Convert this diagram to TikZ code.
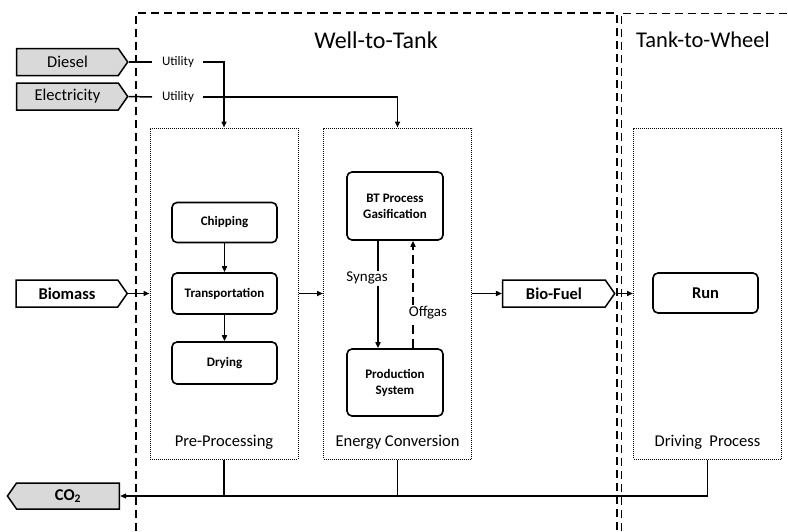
\documentclass[tikz,border=0pt]{standalone}
\usepackage{fontspec}
\setmainfont{Carlito}
\usetikzlibrary{arrows.meta,shapes.symbols}
\begin{document}
\begin{tikzpicture}[x=1pt,y=-1pt,
  tip/.style={-{Triangle[length=6pt,width=5pt]}},
  conn/.style={line width=1.5pt},
  proc/.style={draw,line width=1.6pt,rounded corners=5pt,minimum width=105pt,minimum height=40pt,font=\bfseries\fontsize{13}{16}\selectfont,align=center,inner sep=0pt},
  stage/.style={draw,line width=1pt,dash pattern=on 1pt off 1pt,minimum width=148pt,minimum height=331pt,inner sep=0pt},
  sig/.style={draw,line width=1.5pt,shape=signal,signal pointer angle=110,minimum height=27pt,minimum width=111pt,inner sep=0pt,font=\fontsize{16.5}{18}\selectfont},
  grey/.style={fill=black!15},
  lbl/.style={font=\fontsize{16.5}{18}\selectfont,inner sep=1pt},
  small/.style={font=\fontsize{13}{15}\selectfont,inner sep=1pt},
  title/.style={font=\fontsize{24}{28}\selectfont,inner sep=0pt},
  outer/.style={line width=1.5pt,dash pattern=on 8pt off 5pt},
  outertwo/.style={line width=1pt,dash pattern=on 8pt off 5pt}
]
\useasboundingbox (0,0) rectangle (788,531);

% outer frames
\draw[outer] (136,531) -- (136,13) -- (617,13) -- (617,531);
\draw[outertwo] (621,531) -- (621,13) -- (788,13);
\node[title] (wtt) at (376,40) {Well-to-Tank};
\node[title,font=\fontsize{22.5}{26}\selectfont] (ttw) at (703,40) {Tank-to-Wheel};

% stage containers
\node[stage] (pre) at (224,293.5) {};
\node[stage] (ec) at (397.5,293.5) {};
\node[stage] (drv) at (707.5,293.5) {};
\node[lbl] (prel) at (224,442) {Pre-Processing};
\node[lbl] (ecl) at (397.5,442) {Energy Conversion};
\node[lbl] (drvl) at (707.5,442) {Driving\hspace{0.45em}Process};

% inputs
\node[sig,grey] (diesel) at (67.5,62) {Diesel};
\node[sig,grey] (elec) at (67.5,96.5) {Electricity};
\node[sig,font=\bfseries\fontsize{16.5}{18}\selectfont] (bio) at (67,293.5) {Biomass};
\node[sig,font=\bfseries\fontsize{16.5}{18}\selectfont,minimum width=112pt] (fuel) at (554,293.5) {Bio-Fuel};
\node[sig,grey,signal to=west,minimum width=112pt,minimum height=26pt,font=\bfseries\fontsize{16.5}{18}\selectfont] (co2) at (68,496) {CO\textsubscript{2}};

\node[small] (u1) at (178,62) {Utility};
\node[small] (u2) at (178,97) {Utility};

% process boxes
\node[proc] (chip) at (224.5,222.5) {Chipping};
\node[proc,minimum height=41pt] (trans) at (224.5,293.5) {Transportation};
\node[proc,minimum height=42pt] (dry) at (224.5,363) {Drying};
\node[proc,minimum width=96pt,minimum height=68pt] (bt) at (395,206) {BT Process\\Gasification};
\node[proc,minimum width=96pt,minimum height=67pt] (prod) at (395,382.5) {Production\\System};
\node[proc,font=\bfseries\fontsize{16.5}{18}\selectfont] (run) at (705.5,293) {Run};

% utilities
\draw[conn] (diesel.east) -- (152,62);
\draw[conn] (elec.east) -- (152,97);
\draw[conn,tip] (u1.east) ++(8,0) -| (pre.north);
\draw[conn,tip] (u2.east) ++(8,0) -| (ec.north);

% main flow
\draw[conn,tip] (bio.east) -- (pre.west);
\draw[conn,tip] (pre.east) -- (ec.west);
\draw[conn,tip] (ec.east) -- (fuel.west);
\draw[conn,tip] (fuel.east) -- (drv.west);
\draw[conn,tip] (chip) -- (trans);
\draw[conn,tip] (trans) -- (dry);

% syngas / offgas
\draw[conn,tip] ([xshift=-17pt]bt.south) -- ([xshift=-17pt]bt.south |- prod.north)
  node[small,fill=white,pos=0.35,xshift=-11pt,font=\fontsize{15}{17}\selectfont] (syn) {Syngas};
\draw[conn,tip,dash pattern=on 9pt off 5pt] ([xshift=18pt]prod.north) -- ([xshift=18pt]prod.north |- bt.south)
  node[small,fill=white,pos=0.33,xshift=15pt,font=\fontsize{15}{17}\selectfont] (off) {Offgas};

% emissions
\draw[conn,tip] (drv.south) |- (co2.east);
\draw[conn] (pre.south) -- (pre.south |- co2.east);
\draw[conn] (ec.south) -- (ec.south |- co2.east);
\end{tikzpicture}
\end{document}
